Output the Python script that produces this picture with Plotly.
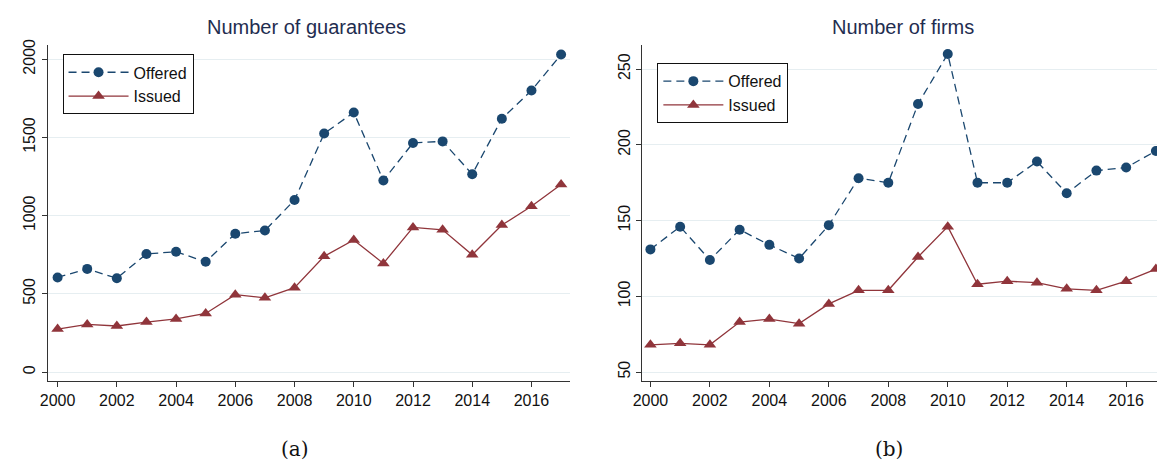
import plotly.graph_objects as go

# Years covered by both panels
years = list(range(2000, 2018))

# Panel (a): number of guarantees
guarantees_offered = [605, 660, 600, 755, 770, 705, 885, 905, 1100, 1525,
                      1660, 1225, 1465, 1475, 1265, 1620, 1800, 2030]
guarantees_issued = [275, 305, 295, 320, 340, 375, 495, 475, 540, 740,
                     845, 695, 925, 910, 750, 940, 1060, 1200]

# Panel (b): number of firms
firms_offered = [131, 146, 124, 144, 134, 125, 147, 178, 175, 227,
                 260, 175, 175, 189, 168, 183, 185, 196]
firms_issued = [68, 69, 68, 83, 85, 82, 95, 104, 104, 126,
                146, 108, 110, 109, 105, 104, 110, 118]

x_ticks = list(range(2000, 2017, 2))
y_ticks_a = [0, 500, 1000, 1500, 2000]
y_ticks_b = [50, 100, 150, 200, 250]

NAVY = "#1a476f"
MAROON = "#90353b"
TITLE_COLOR = "#1f2d50"
GRID = "#e6eef1"
AXIS = "#333333"
SANS = "Liberation Sans, Arial, sans-serif"
SERIF = "DejaVu Serif, Liberation Serif, serif"

W, H = 1157, 460


def px_x(p):
    return p / W


def px_y(p):
    return (H - p) / H


fig = go.Figure()


def add_pair(offered, issued, xref, yref, legend):
    fig.add_trace(go.Scatter(
        x=years, y=offered, name="Offered", mode="lines+markers",
        xaxis=xref, yaxis=yref, legend=legend,
        line=dict(color=NAVY, width=1.3, dash="8px,5px"),
        marker=dict(symbol="circle", size=10, color=NAVY),
    ))
    fig.add_trace(go.Scatter(
        x=years, y=issued, name="Issued", mode="lines+markers",
        xaxis=xref, yaxis=yref, legend=legend,
        line=dict(color=MAROON, width=1.3),
        marker=dict(symbol="triangle-up", size=11, color=MAROON),
    ))


add_pair(guarantees_offered, guarantees_issued, "x", "y", "legend")
add_pair(firms_offered, firms_issued, "x2", "y2", "legend2")

y_dom = [px_y(380), px_y(40)]

axis_common = dict(
    showline=True, linecolor=AXIS, linewidth=1,
    ticks="outside", ticklen=5, tickcolor=AXIS,
    tickfont=dict(family=SANS, size=16, color="#111111"),
    zeroline=False,
)

legend_common = dict(
    xanchor="left", yanchor="top",
    bordercolor="#111111", borderwidth=1, bgcolor="white",
    font=dict(family=SANS, size=16, color="#111111"),
    tracegroupgap=0, itemwidth=60,
)

fig.update_layout(
    width=W, height=H,
    margin=dict(l=0, r=0, t=0, b=0),
    paper_bgcolor="white", plot_bgcolor="white",
    xaxis=dict(domain=[px_x(38), px_x(565)], range=[1999.665, 2017.305],
               tickvals=x_ticks, showgrid=False, anchor="y", **axis_common),
    yaxis=dict(domain=y_dom, range=[-57, 2088], tickvals=y_ticks_a,
               tickangle=-90, showgrid=True, gridcolor=GRID, gridwidth=1,
               anchor="x", **axis_common),
    xaxis2=dict(domain=[px_x(638), 1.0], range=[1999.733, 2017.037],
                tickvals=x_ticks, showgrid=False, anchor="y2", **axis_common),
    yaxis2=dict(domain=y_dom, range=[44.1, 265.6], tickvals=y_ticks_b,
                tickangle=-90, showgrid=True, gridcolor=GRID, gridwidth=1,
                anchor="x2", **axis_common),
    legend=dict(x=px_x(53), y=px_y(49), **legend_common),
    legend2=dict(x=px_x(653), y=px_y(58), **legend_common),
    showlegend=True,
)

annotations = [
    dict(text="Number of guarantees", x=px_x(299), y=px_y(21),
         font=dict(family=SANS, size=20, color=TITLE_COLOR)),
    dict(text="Number of firms", x=px_x(901), y=px_y(21),
         font=dict(family=SANS, size=20, color=TITLE_COLOR)),
    dict(text="(a)", x=px_x(287.5), y=px_y(449),
         font=dict(family=SERIF, size=20, color="#111111")),
    dict(text="(b)", x=px_x(887), y=px_y(449),
         font=dict(family=SERIF, size=20, color="#111111")),
]
for a in annotations:
    fig.add_annotation(xref="paper", yref="paper", showarrow=False,
                       xanchor="center", yanchor="middle", **a)

fig.write_html("out.html")
